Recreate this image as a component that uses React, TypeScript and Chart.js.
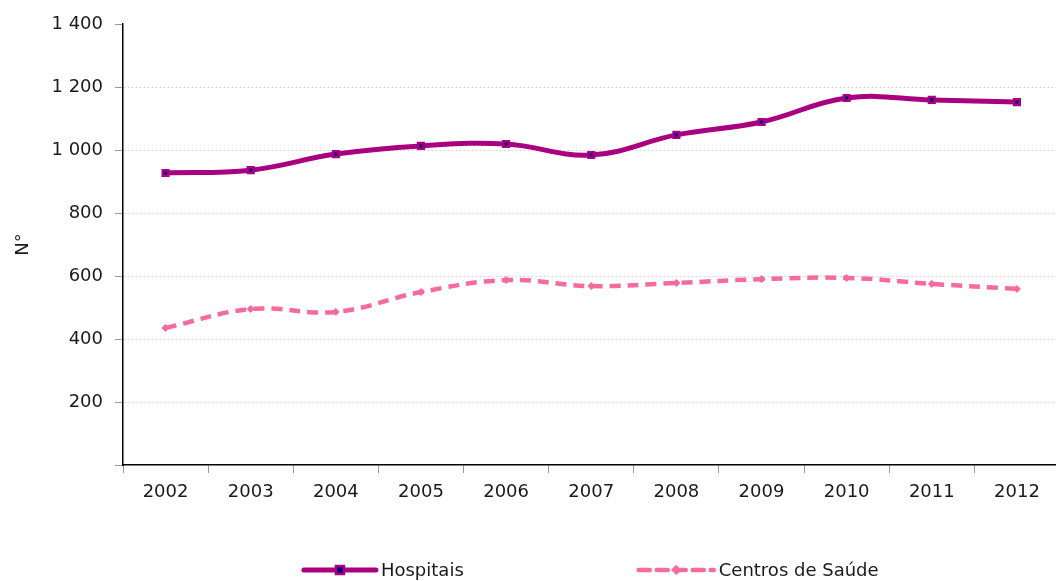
import React, { useEffect, useRef } from "react";
import { Chart, registerables } from "chart.js";

Chart.register(...registerables);

const years = ["2002", "2003", "2004", "2005", "2006", "2007", "2008", "2009", "2010", "2011", "2012"];
const hospitais = [927, 936, 987, 1013, 1019, 984, 1048, 1089, 1165, 1159, 1152];
const centrosSaude = [435, 495, 486, 549, 587, 568, 578, 590, 594, 575, 559];
const seriesNames = ["Hospitais", "Centros de Saúde"];
const yTitle = "N°";

const FONT = "'DejaVu Sans', Verdana, sans-serif";
const HOSP = "#A8007F";
const CENT = "#F76A9E";

const legendPlugin = {
  id: "bottomLegend",
  afterDraw(chart: any) {
    const ctx = chart.ctx;
    const area = chart.chartArea;
    const y = 570;
    ctx.save();
    ctx.font = `18px ${FONT}`;
    const sampleW = [72, 75];
    const gap = 175;
    const widths = chart.data.datasets.map((ds: any, i: number) => sampleW[i] + 5 + ctx.measureText(ds.label).width);
    const total = widths.reduce((a: number, b: number) => a + b, 0) + gap;
    let x = (area.left + area.right) / 2 - total / 2;
    chart.data.datasets.forEach((ds: any, i: number) => {
      const w = sampleW[i];
      ctx.save();
      ctx.strokeStyle = ds.borderColor;
      ctx.lineWidth = ds.borderWidth;
      ctx.lineCap = "round";
      ctx.setLineDash(ds.borderDash || []);
      ctx.beginPath();
      ctx.moveTo(x, y);
      ctx.lineTo(x + w, y);
      ctx.stroke();
      ctx.setLineDash([]);
      const cx = x + w / 2;
      ctx.fillStyle = ds.pointBackgroundColor;
      ctx.strokeStyle = ds.pointBorderColor;
      ctx.lineWidth = ds.pointBorderWidth;
      const r = ds.pointRadius;
      ctx.beginPath();
      if (ds.pointStyle === "rect") {
        ctx.rect(cx - r, y - r, 2 * r, 2 * r);
      } else {
        ctx.moveTo(cx, y - r - 1);
        ctx.lineTo(cx + r + 1, y);
        ctx.lineTo(cx, y + r + 1);
        ctx.lineTo(cx - r - 1, y);
        ctx.closePath();
      }
      ctx.fill();
      ctx.stroke();
      ctx.restore();
      ctx.fillStyle = "#1a1a1a";
      ctx.textBaseline = "middle";
      ctx.textAlign = "left";
      ctx.fillText(ds.label, x + w + 5, y + 1);
      x += widths[i] + gap;
    });
    ctx.restore();
  },
};

export default function App() {
  const ref = useRef<HTMLCanvasElement | null>(null);
  useEffect(() => {
    document.body.style.margin = "0";
    document.body.style.overflow = "hidden";
    if (!ref.current) return;
    const chart = new Chart(ref.current, {
      type: "line",
      data: {
        labels: years,
        datasets: [
          {
            label: seriesNames[0],
            data: hospitais,
            borderColor: HOSP,
            borderWidth: 5,
            tension: 0.4,
            pointStyle: "rect",
            pointRadius: 4,
            pointBackgroundColor: "#000080",
            pointBorderColor: HOSP,
            pointBorderWidth: 2.5,
            fill: false,
          },
          {
            label: seriesNames[1],
            data: centrosSaude,
            borderColor: CENT,
            borderWidth: 4.5,
            borderDash: [11, 7],
            tension: 0.4,
            pointStyle: "rectRot",
            pointRadius: 3.5,
            pointBackgroundColor: CENT,
            pointBorderColor: CENT,
            pointBorderWidth: 1,
            fill: false,
          },
        ],
      },
      options: {
        responsive: false,
        animation: false,
        devicePixelRatio: 1,
        layout: { padding: { top: 24, right: 2, left: 0, bottom: 0 } },
        plugins: {
          legend: { display: false },
          tooltip: { enabled: false },
        },
        scales: {
          x: {
            offset: true,
            afterFit: (s: any) => {
              s.height = 116;
            },
            grid: {
              offset: true,
              drawOnChartArea: false,
              drawTicks: true,
              tickLength: 8,
              tickColor: "#999",
            },
            border: { display: true, color: "#000", width: 1.5 },
            ticks: {
              padding: 9,
              color: "#1a1a1a",
              font: { family: FONT, size: 18 },
              maxRotation: 0,
            },
          },
          y: {
            min: 0,
            max: 1400,
            afterFit: (s: any) => {
              s.width = 123;
            },
            ticks: {
              stepSize: 200,
              padding: 12,
              color: "#1a1a1a",
              font: { family: FONT, size: 18 },
              callback: (v: any) => (Number(v) === 0 ? "" : String(v).replace(/\B(?=(\d{3})+(?!\d))/g, " ")),
            },
            grid: {
              color: (c: any) => (c.tick && (c.tick.value === 0 || c.tick.value === 1400) ? "rgba(0,0,0,0)" : "#d4d4d4"),
              lineWidth: 1,
              tickLength: 8,
              tickColor: "#999",
              tickBorderDash: [],
            },
            border: { display: true, color: "#000", width: 1.5, dash: [2, 2] },
            title: {
              display: true,
              text: yTitle,
              color: "#1a1a1a",
              font: { family: FONT, size: 18 },
              padding: { top: 13, bottom: 0 },
            },
          },
        },
      },
      plugins: [legendPlugin],
    });
    return () => chart.destroy();
  }, []);
  return (
    <div style={{ width: 1056, height: 581, overflow: "hidden" }}>
      <canvas ref={ref} width={1066} height={581} style={{ display: "block" }} />
    </div>
  );
}
